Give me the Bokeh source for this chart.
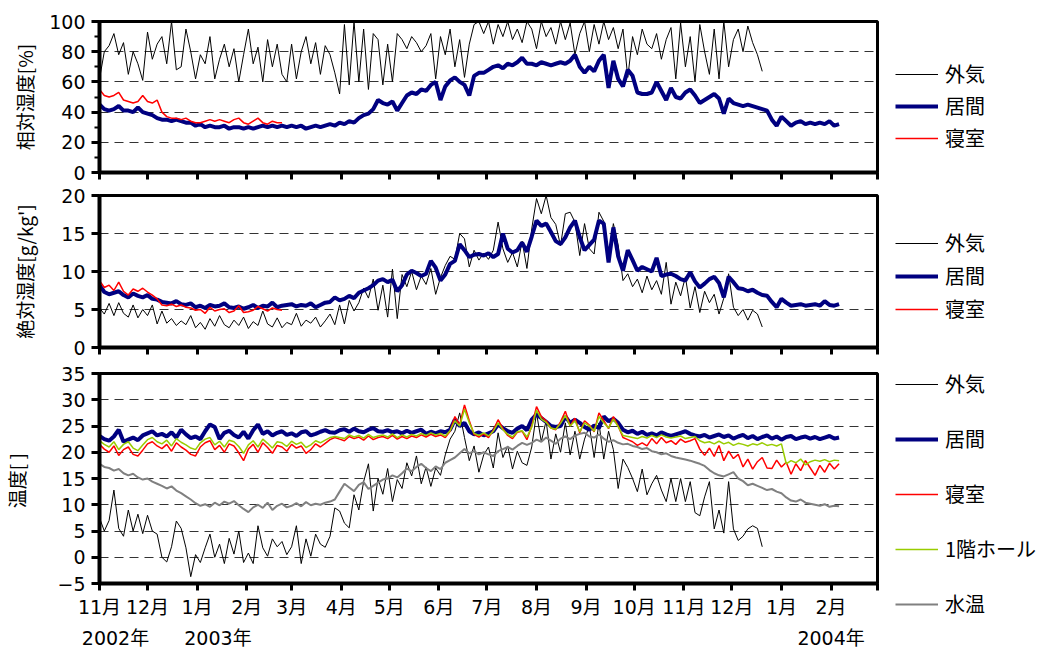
import pandas as pd
from bokeh.plotting import figure
from bokeh.models import (Range1d, FixedTicker, SingleIntervalTicker, LinearAxis, Legend,
                          LegendItem, CustomLabelingPolicy)
from bokeh.layouts import column, row
from bokeh.embed import file_html
from bokeh.resources import INLINE

# ---------------- data (sampled every 3 days from 2002-11-01) ----------------
START = pd.Timestamp("2002-11-01")
STEP_DAYS = 3

month_starts = pd.date_range("2002-11-01", "2004-03-01", freq="MS")
month_labels = [f"{d.month}月" for d in month_starts[:-1]] + [""]
year_labels = ["2002年", "2003年", "2004年"]
year_label_dates = ["2002-11-11", "2003-01-14", "2004-02-01"]

# relative humidity [%]
rh_out = [62,80,84,92,78,86,65,80,72,61, 93,75,85,90,72,100,68,70,95,80,
          62,78,72,90,62,75,85,70,82,60, 78,95,72,83,60,88,70,85,65,60,
          85,62,80,90,72,86,65,84,78,66, 52,98,58,100,60,95,55,92,88,58,
          85,60,92,88,82,90,86,80,84,92, 62,90,78,95,70,88,63,85,98,100,
          92,100,85,98,90,100,88,95,86,100, 95,82,100,90,96,85,100,88,99,78,
          92,100,80,98,85,100,88,96,82,95, 63,90,78,95,85,82,92,75,88,96,
          62,99,70,90,60,98,80,65,95,62, 100,70,88,95,80,97,86,78,67]
rh_living = [45,42,41,42,44,41,41,40,43,40, 39,38,36,35,35,34,35,34,33,33,
             31,32,30,31,30,30,31,29,30,30, 29,30,29,30,31,30,31,30,31,30,
             31,30,31,29,30,31,30,31,32,31, 33,32,34,33,36,38,39,42,48,46,
             45,47,41,46,51,53,52,55,54,58, 60,48,57,61,63,60,58,51,64,66,
             66,68,70,71,69,72,71,73,76,72, 72,71,73,72,71,72,73,72,74,78,
             70,66,70,67,74,78,56,74,62,57, 68,64,53,52,52,53,60,54,48,56,
             50,49,53,55,51,46,48,50,52,49, 39,49,46,45,44,45,44,43,42,41,
             35,31,37,34,31,33,34,32,33,32, 33,32,34,31,32]
rh_bed = [55,51,50,51,53,48,47,46,47,51, 47,46,48,40,37,36,36,35,36,34,
          33,33,34,35,34,35,34,33,35,36, 33,32,34,36,33,32,34,33,33]

# absolute humidity [g/kg']
ah_out = [5.2,4.4,5.8,4.2,5.9,4.5,4.0,5.6,3.9,5.0, 4.2,5.6,3.1,4.8,3.2,3.8,2.9,3.5,3.0,4.2,
          2.6,3.3,2.4,3.8,2.8,4.2,3.0,2.6,3.6,2.9, 4.0,2.5,3.4,2.9,4.8,3.1,2.7,3.9,2.6,3.3,
          3.0,4.5,2.8,3.6,3.2,4.0,2.7,3.5,4.4,3.0, 5.6,3.1,6.2,4.8,5.9,7.8,6.5,9.0,4.9,8.2,
          4.0,10.3,3.8,9.6,8.0,10.0,7.6,9.4,8.3,10.4, 7.0,9.2,10.8,12.0,11.6,15.0,14.3,10.6,12.8,11.5,
          12.4,11.6,12.8,16.5,13.0,11.2,12.5,10.6,14.0,10.4, 15.6,19.6,17.6,20.0,17.1,16.2,13.4,17.6,17.8,16.5,
          12.1,16.3,13.0,12.3,17.8,16.6,12.0,16.3,13.5,8.8, 9.7,8.0,9.0,7.2,9.4,7.6,8.8,7.0,11.2,5.7,
          8.6,6.8,9.3,5.2,8.0,4.6,7.4,5.9,7.0,4.4, 6.5,9.7,5.3,4.2,5.0,3.6,4.9,4.4,2.7]
ah_living = [8.2,7.3,7.0,7.2,7.4,6.9,6.6,7.1,6.8,6.6, 6.9,6.4,6.3,6.0,5.9,5.8,6.1,5.7,5.6,5.8,
             5.3,5.5,5.2,5.6,5.4,5.5,5.8,5.3,5.2,5.4, 5.1,5.3,5.6,5.2,5.5,5.4,5.9,5.3,5.5,5.6,
             5.7,5.4,5.6,5.5,5.8,5.3,5.6,5.9,6.0,6.6, 6.2,6.4,6.8,6.5,7.2,7.5,7.8,8.2,8.8,9.0,
             8.6,8.9,7.4,8.2,9.6,10.1,9.8,9.4,9.7,11.4, 10.5,8.8,9.6,11.0,11.4,13.6,12.8,11.9,12.2,12.3,
             12.1,12.4,11.9,12.3,15.0,13.0,12.5,12.8,13.8,12.6, 14.6,16.7,16.0,16.3,15.2,14.0,13.6,14.5,15.8,16.7,
             14.5,12.8,13.5,14.2,16.7,16.3,11.2,15.8,12.0,10.1, 12.8,11.5,10.1,10.6,10.3,10.0,11.8,9.4,9.6,9.7,
             9.4,9.0,8.8,9.9,8.7,7.9,8.4,9.0,9.3,8.5, 6.6,9.3,8.6,7.8,7.7,7.4,7.6,7.2,6.9,6.8,
             6.0,5.3,6.4,5.9,5.5,5.6,5.7,5.5,5.6,5.7, 5.5,6.1,5.6,5.5,5.7]
ah_bed = [8.8,7.9,8.2,7.5,8.6,7.4,6.9,7.7,7.4,7.8, 7.3,6.9,6.4,5.6,5.5,5.7,5.4,5.6,5.3,5.2,
          4.9,5.0,4.5,5.3,4.8,5.0,5.1,4.6,4.8,5.5, 4.6,4.7,4.9,5.4,5.1,4.8,5.2,5.0,4.9]

# temperature [C]
t_out = [7.5,5.0,7.0,12.8,5.5,4.0,9.0,5.0,8.2,4.5, 8.0,5.0,4.4,0.0,-0.9,2.0,6.9,5.5,1.8,-3.7,
         0.5,-1.0,1.8,4.4,0.0,2.5,-1.2,3.6,0.6,5.0, -1.0,0.8,-1.2,6.0,1.8,0.2,3.5,2.0,3.0,0.5,
         2.0,6.0,-1.2,3.5,0.2,4.4,2.5,1.9,4.0,9.4, 8.8,6.5,5.6,11.9,9.0,14.4,17.8,8.8,15.0,12.0,
         16.9,10.6,14.8,13.1,18.0,15.5,19.3,14.0,17.2,13.5, 17.0,15.6,19.5,22.5,24.0,27.5,22.8,18.4,21.2,16.2,
         19.5,21.0,17.0,23.7,19.0,21.2,16.8,20.2,18.0,17.5, 21.0,27.5,22.0,26.0,18.7,23.5,20.0,25.6,19.5,24.0,
         18.7,22.5,25.0,19.0,25.6,18.7,24.0,20.5,13.1,18.7, 17.1,15.0,12.5,16.8,11.9,14.0,15.6,12.8,10.6,15.0,
         10.6,15.0,10.6,14.4,8.5,7.9,11.5,14.4,5.4,9.0, 4.6,14.4,5.4,3.2,4.0,5.4,6.0,5.5,2.0]
t_living = [23.1,22.5,22.2,23.0,24.3,22.0,22.4,22.8,22.3,23.2, 23.6,24.0,23.2,23.5,23.0,23.8,22.8,24.3,23.4,22.7,
            23.0,22.5,24.0,25.3,24.8,22.5,23.7,24.1,23.3,22.8, 23.9,22.6,24.2,25.3,23.5,24.0,23.2,23.7,24.0,23.3,
            23.6,23.1,23.8,24.0,23.2,23.5,23.9,24.2,23.8,23.7, 24.2,24.4,23.9,24.5,24.0,23.8,24.3,24.6,24.0,23.9,
            24.2,23.8,24.0,23.6,24.1,23.7,24.0,24.3,23.5,23.9, 23.6,24.0,23.8,24.3,26.2,25.0,25.6,24.0,23.4,23.8,
            23.2,23.6,24.0,25.3,24.6,24.0,23.7,24.5,25.0,24.2, 26.2,27.2,26.5,25.8,25.0,24.8,25.0,26.8,25.6,26.2,
            25.6,24.8,24.3,25.1,24.6,26.8,25.9,26.4,25.6,24.3, 23.8,24.1,23.5,23.9,23.3,23.6,23.2,23.8,23.4,23.1,
            23.4,23.7,24.0,23.5,23.2,23.0,23.3,22.8,23.1,23.4, 22.9,23.2,22.6,23.0,23.3,22.7,23.1,22.5,22.9,23.2,
            22.6,23.0,22.4,22.9,23.1,22.5,22.8,23.0,22.6,22.9, 22.5,22.8,23.1,22.6,22.8]
t_bed = [21.5,20.6,20.0,21.2,19.4,20.5,21.0,19.6,19.3,20.4, 21.6,22.0,21.2,20.7,21.5,20.2,21.8,21.0,20.4,19.6,
         19.3,21.0,21.8,22.2,20.5,21.3,20.0,21.6,21.2,19.9, 18.4,20.6,21.5,20.0,21.8,20.9,19.8,21.3,21.0,20.2,
         21.5,20.8,21.2,19.8,20.5,21.6,21.0,21.7,22.4,22.8, 22.5,22.2,23.0,22.6,22.9,22.3,23.1,22.4,22.8,23.0,
         22.6,23.2,22.5,23.0,22.6,23.1,22.8,23.3,22.9,23.4, 23.0,23.3,22.8,24.0,26.8,25.2,29.0,26.0,23.4,22.9,
         23.5,22.8,24.2,26.2,24.5,23.2,22.6,23.8,24.0,22.4, 25.0,28.7,26.8,26.0,24.6,24.3,25.8,27.8,25.0,26.5,
         23.7,26.0,25.2,23.9,27.5,26.0,24.5,26.8,25.0,22.8, 22.4,22.0,21.3,21.8,21.2,22.6,21.6,22.8,21.8,22.2,
         21.5,22.5,21.9,22.2,22.6,20.6,19.4,20.8,19.2,21.3, 18.4,20.2,18.8,19.6,17.2,18.7,16.8,18.2,19.0,17.0,
         16.9,18.5,17.2,18.1,15.8,17.8,16.5,18.4,17.0,15.6, 17.5,16.2,17.9,16.8,17.8]
t_hall = [22.2,21.5,21.0,22.0,20.5,21.5,22.0,20.8,20.3,21.4, 22.4,22.8,22.0,21.6,22.3,21.2,22.6,21.9,21.4,20.8,
          20.5,21.8,22.5,22.8,21.4,22.1,21.0,22.3,22.0,21.1, 19.8,21.4,22.2,21.0,22.5,21.7,20.8,22.0,21.8,21.1,
          22.1,21.5,21.9,20.9,21.4,22.2,21.8,22.3,22.8,23.0, 22.8,22.6,23.3,22.9,23.2,22.7,23.4,22.8,23.1,23.3,
          22.9,23.5,22.8,23.3,22.9,23.4,23.1,23.6,23.2,23.7, 23.3,23.6,23.1,24.1,26.0,25.0,28.2,25.6,23.6,23.2,
          23.7,23.1,24.0,25.6,24.3,23.4,22.9,23.9,24.1,22.9, 24.8,28.0,26.3,25.7,24.6,24.4,25.5,27.0,25.0,26.0,
          23.9,25.6,25.0,24.0,26.8,25.6,24.6,26.3,24.9,23.2, 23.0,22.8,22.6,23.0,22.7,23.2,22.8,23.3,22.9,22.7,
          22.9,23.1,22.6,22.8,23.0,22.2,21.8,22.0,21.6,22.1, 21.6,21.9,21.3,21.7,21.5,21.2,21.6,21.4,21.8,21.3,
          21.5,21.2,21.6,17.8,18.4,18.0,18.7,17.6,18.2,18.5, 18.3,18.6,18.2,18.5,18.4]
t_water = [17.8,17.2,17.0,16.5,16.8,16.0,15.6,15.9,15.2,14.8, 15.0,14.4,14.0,13.6,13.1,13.5,12.7,12.2,11.6,11.0,
           10.3,9.8,10.1,9.6,10.4,9.9,10.6,10.2,10.7,9.9, 9.2,8.6,9.5,10.0,9.4,10.4,9.0,9.8,10.2,9.5,
           9.8,10.3,9.7,10.5,9.9,10.2,10.0,10.4,10.6,11.0, 12.5,14.0,13.3,12.6,13.8,14.3,13.0,13.6,14.2,14.8,
           15.0,15.6,15.2,16.0,16.9,16.4,17.2,17.8,17.0,16.4, 17.3,16.8,18.0,18.5,19.0,19.8,20.6,19.8,20.2,19.6,
           20.0,19.6,19.3,20.2,20.6,21.0,20.5,21.2,21.8,21.4, 21.8,22.4,22.0,22.8,22.2,21.6,22.6,23.0,22.5,23.2,
           23.5,23.7,23.0,22.8,23.4,22.6,22.0,22.3,21.8,21.5, 21.6,21.2,21.0,20.6,20.8,20.2,20.0,19.6,19.8,19.3,
           19.0,18.8,18.6,18.4,18.1,17.8,17.4,16.6,16.0,15.6, 15.4,15.8,16.2,15.0,14.5,13.7,14.0,13.6,13.2,12.8,
           13.0,12.5,12.2,11.4,10.8,10.6,11.0,10.4,10.2,10.0, 9.8,10.1,9.6,9.8,9.7]

# ---------------- styling helpers ----------------
NAVY, RED, GREEN, GRAY, BLACK = "#000080", "#FF0000", "#99CC00", "#808080", "#000000"
FONT_NUM = "DejaVu Sans, Noto Sans CJK JP"
FONT_JP = "Noto Sans CJK JP"
PLOT_W, LEG_W, TOTAL_H = 879, 162, 651

month_ticks = [(d - START).days for d in month_starts]
x_end = month_ticks[-1]

NO_LABELS = CustomLabelingPolicy(code="""
try {
  const n = indices.size
  for (let i = 0; i < n; i++) { indices.unset(i) }
} catch (e) {}
return indices
""")


def xs(values):
    return [STEP_DAYS * i for i in range(len(values))]


def make_panel(height, top, bottom, yr, ylabel, interval, minor, standoff, show_x):
    p = figure(width=PLOT_W, height=height, x_range=Range1d(0, x_end), y_range=Range1d(*yr),
               output_backend="svg", toolbar_location=None, title_location=None,
               min_border_left=92, min_border_right=2, min_border_top=top,
               min_border_bottom=bottom, background_fill_color="white",
               border_fill_color="white")
    p.outline_line_color = "black"
    p.outline_line_width = 3
    p.xgrid.visible = False
    p.ygrid.grid_line_color = "#333333"
    p.ygrid.grid_line_dash = "9 6"
    p.ygrid.grid_line_width = 1

    ya = p.yaxis[0]
    ya.ticker = SingleIntervalTicker(interval=interval, num_minor_ticks=minor)
    ya.axis_line_width = 4
    ya.major_tick_line_width = 3
    ya.major_tick_out = 8
    ya.major_tick_in = 0
    ya.minor_tick_line_width = 2
    ya.minor_tick_out = 5
    ya.minor_tick_in = 0
    ya.major_label_text_font = FONT_NUM
    ya.major_label_text_font_size = "19px"
    ya.major_label_text_color = "black"
    ya.major_label_standoff = 6
    ya.axis_label = ylabel
    ya.axis_label_text_font = FONT_JP
    ya.axis_label_text_font_size = "19px"
    ya.axis_label_text_font_style = "normal"
    ya.axis_label_text_color = "black"
    ya.axis_label_standoff = standoff

    xa = p.xaxis[0]
    xa.ticker = FixedTicker(ticks=month_ticks, minor_ticks=[])
    xa.major_label_overrides = dict(zip(month_ticks, month_labels))
    xa.axis_line_width = 4
    xa.major_tick_line_width = 3
    xa.major_tick_out = 7
    xa.major_tick_in = 0
    xa.minor_tick_line_color = None
    xa.major_label_text_font = FONT_NUM
    xa.major_label_text_color = "black"
    if show_x:
        xa.major_label_text_font_size = "19px"
        xa.major_label_standoff = 5
    else:
        xa.major_label_policy = NO_LABELS
        xa.major_label_text_font_size = "1px"
        xa.major_label_text_color = None
        xa.major_label_standoff = 0
    return p


# ---------------- panel 1 : relative humidity ----------------
p1 = make_panel(183, 21, 11, (0, 100), "相対湿度[%]", 20, 2, 8, False)
p1.line(xs(rh_out), rh_out, line_color=BLACK, line_width=1)
p1.line(xs(rh_living), rh_living, line_color=NAVY, line_width=4)
p1.line(xs(rh_bed), rh_bed, line_color=RED, line_width=1.5)

# ---------------- panel 2 : absolute humidity ----------------
p2 = make_panel(177, 12, 13, (0, 20), "絶対湿度[g/kg']", 5, 0, 20, False)
p2.line(xs(ah_out), ah_out, line_color=BLACK, line_width=1)
p2.line(xs(ah_living), ah_living, line_color=NAVY, line_width=4)
p2.line(xs(ah_bed), ah_bed, line_color=RED, line_width=1.5)

# ---------------- panel 3 : temperature ----------------
p3 = make_panel(291, 13, 64, (-5, 35), "温度[  ]", 5, 0, 24, True)
p3.line(xs(t_out), t_out, line_color=BLACK, line_width=1)
p3.line(xs(t_living), t_living, line_color=NAVY, line_width=4)
p3.line(xs(t_bed), t_bed, line_color=RED, line_width=1.5)
p3.line(xs(t_hall), t_hall, line_color=GREEN, line_width=1.5)
p3.line(xs(t_water), t_water, line_color=GRAY, line_width=2)

year_ticks = [(pd.Timestamp(d) - START).days for d in year_label_dates]
yax = LinearAxis(ticker=FixedTicker(ticks=year_ticks, minor_ticks=[]),
                 major_label_overrides=dict(zip(year_ticks, year_labels)),
                 axis_line_color=None, major_tick_line_color=None, minor_tick_line_color=None,
                 major_label_standoff=0, major_label_text_font=FONT_NUM,
                 major_label_text_font_size="19px", major_label_text_color="black")
p3.add_layout(yax, "below")

# ---------------- legend column (one tall box to the right of the panels) ----------------
lf = figure(width=LEG_W, height=TOTAL_H, output_backend="svg", toolbar_location=None,
            title_location=None, x_axis_type=None, y_axis_type=None,
            min_border=0, min_border_left=0, min_border_right=0,
            min_border_top=0, min_border_bottom=0,
            x_range=Range1d(-2, -1), y_range=Range1d(-2, -1))
lf.outline_line_color = None
lf.grid.visible = False


def add_legend(entries, y, spacing):
    items = []
    for label, vals, color, width in entries:
        # legend key: same series, drawn outside this box's visible range
        r = lf.line(xs(vals), vals, line_color=color, line_width=width)
        items.append(LegendItem(label=label, renderers=[r]))
    leg = Legend(items=items, location=(895 - PLOT_W, y), orientation="vertical",
                 padding=0, margin=0, spacing=spacing, glyph_width=43, glyph_height=20,
                 label_height=20, label_standoff=7, label_text_font=FONT_JP,
                 label_text_font_size="20px", label_text_color="black",
                 border_line_color=None, background_fill_alpha=0)
    lf.add_layout(leg)


add_legend([("外気", rh_out, BLACK, 1), ("居間", rh_living, NAVY, 4),
            ("寝室", rh_bed, RED, 1.5)], 499, 3)
add_legend([("外気", ah_out, BLACK, 1), ("居間", ah_living, NAVY, 4),
            ("寝室", ah_bed, RED, 1.5)], 328, 4)
add_legend([("外気", t_out, BLACK, 1), ("居間", t_living, NAVY, 4), ("寝室", t_bed, RED, 1.5),
            ("1階ホール", t_hall, GREEN, 1.5), ("水温", t_water, GRAY, 2)], 33, 26)

layout = row(column(p1, p2, p3, spacing=0), lf, spacing=0)
open("out.html", "w").write(file_html(layout, INLINE))
